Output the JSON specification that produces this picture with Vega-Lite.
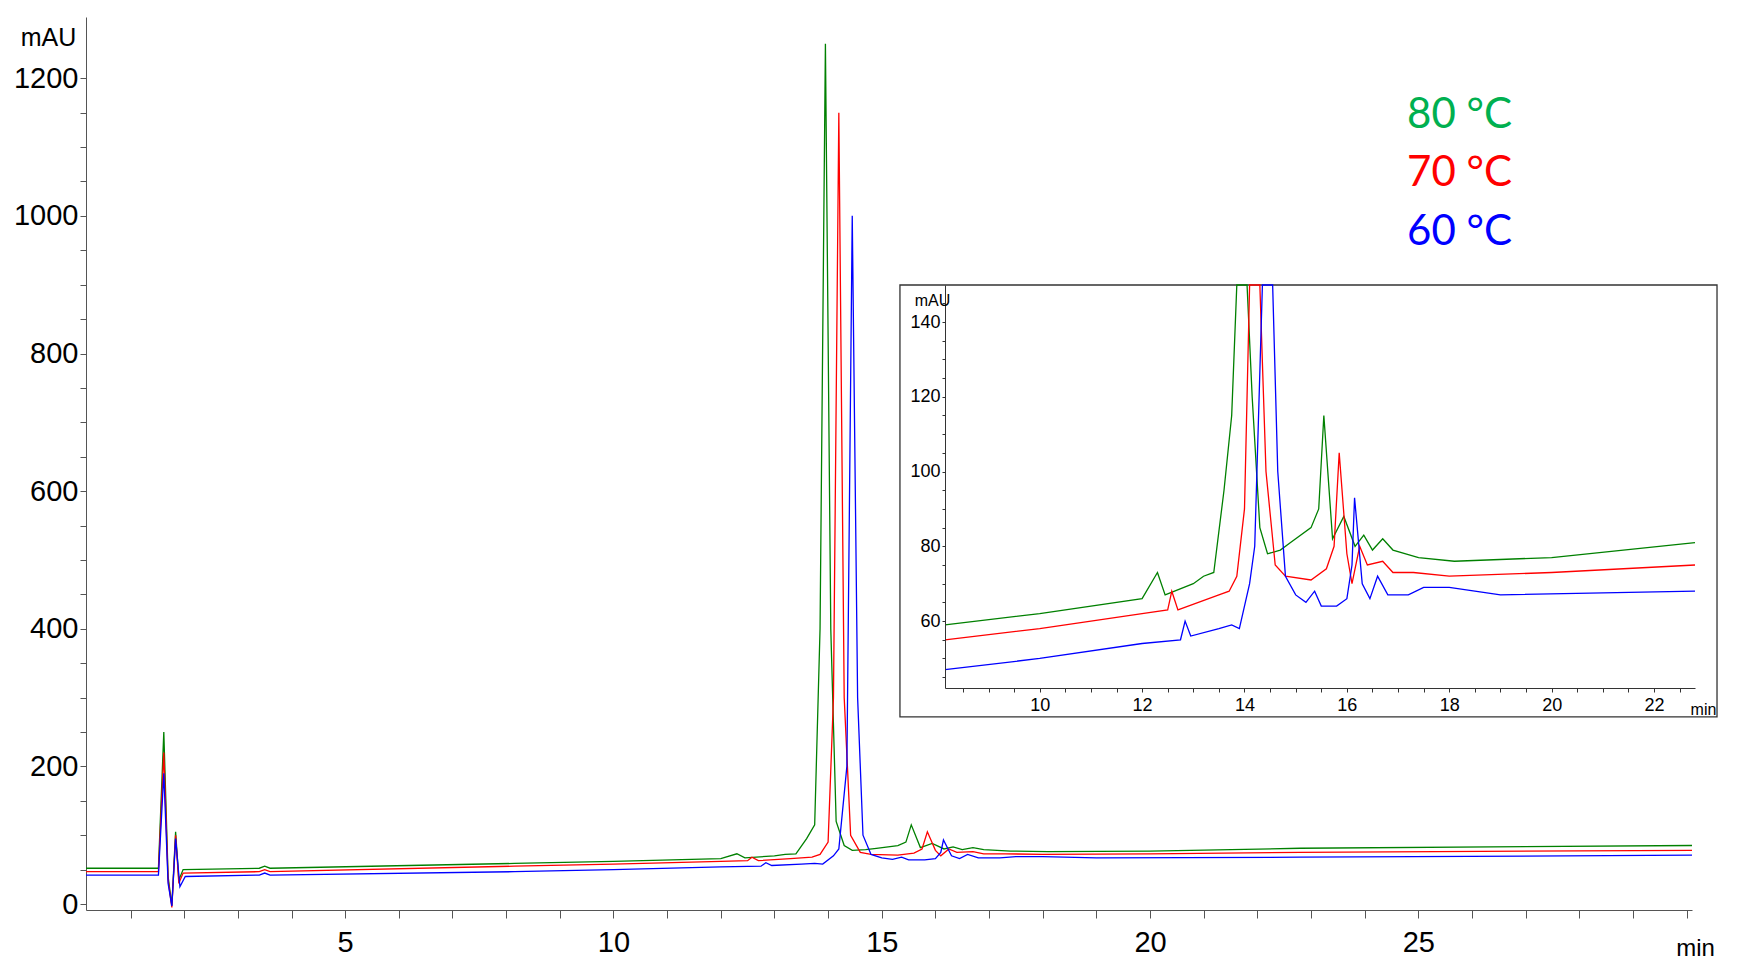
{
  "$schema": "https://vega.github.io/schema/vega-lite/v6.json",
  "width": 1606,
  "height": 893,
  "autosize": "none",
  "padding": {"left": 86, "top": 17, "right": 62, "bottom": 67},
  "background": "white",
  "datasets": {
    "traces": [
      {"s":"80","t":0.17,"v":52},{"s":"80","t":1.52,"v":52},{"s":"80","t":1.62,"v":250},{"s":"80","t":1.7,"v":40},{"s":"80","t":1.77,"v":-2},{"s":"80","t":1.84,"v":105},{"s":"80","t":1.9,"v":35},{"s":"80","t":1.98,"v":50},{"s":"80","t":3.4,"v":52},{"s":"80","t":3.5,"v":55},{"s":"80","t":3.6,"v":52},{"s":"80","t":8.15,"v":59},{"s":"80","t":10,"v":62},{"s":"80","t":12,"v":66},{"s":"80","t":12.3,"v":73},{"s":"80","t":12.45,"v":67},{"s":"80","t":13,"v":70},{"s":"80","t":13.2,"v":72},{"s":"80","t":13.4,"v":73},{"s":"80","t":13.6,"v":95},{"s":"80","t":13.75,"v":115},{"s":"80","t":13.85,"v":400},{"s":"80","t":13.95,"v":1250},{"s":"80","t":14.05,"v":400},{"s":"80","t":14.15,"v":120},{"s":"80","t":14.3,"v":85},{"s":"80","t":14.45,"v":78},{"s":"80","t":14.7,"v":79},{"s":"80","t":14.9,"v":81},{"s":"80","t":15.3,"v":85},{"s":"80","t":15.45,"v":90},{"s":"80","t":15.55,"v":115},{"s":"80","t":15.72,"v":82},{"s":"80","t":15.94,"v":88},{"s":"80","t":16.16,"v":80},{"s":"80","t":16.33,"v":83},{"s":"80","t":16.5,"v":79},{"s":"80","t":16.7,"v":82},{"s":"80","t":16.9,"v":79},{"s":"80","t":17.4,"v":77},{"s":"80","t":18.1,"v":76},{"s":"80","t":20,"v":77},{"s":"80","t":22.8,"v":81},{"s":"80","t":30.1,"v":85},
      {"s":"70","t":0.17,"v":47},{"s":"70","t":1.52,"v":47},{"s":"70","t":1.62,"v":220},{"s":"70","t":1.7,"v":35},{"s":"70","t":1.77,"v":-5},{"s":"70","t":1.84,"v":100},{"s":"70","t":1.9,"v":30},{"s":"70","t":1.98,"v":45},{"s":"70","t":3.4,"v":47},{"s":"70","t":3.5,"v":50},{"s":"70","t":3.6,"v":47},{"s":"70","t":8.15,"v":55},{"s":"70","t":10,"v":58},{"s":"70","t":12,"v":62},{"s":"70","t":12.5,"v":63},{"s":"70","t":12.58,"v":68},{"s":"70","t":12.7,"v":63},{"s":"70","t":13.3,"v":66},{"s":"70","t":13.5,"v":67},{"s":"70","t":13.7,"v":68},{"s":"70","t":13.85,"v":72},{"s":"70","t":14.0,"v":90},{"s":"70","t":14.1,"v":300},{"s":"70","t":14.2,"v":1150},{"s":"70","t":14.3,"v":300},{"s":"70","t":14.42,"v":100},{"s":"70","t":14.6,"v":75},{"s":"70","t":14.8,"v":72},{"s":"70","t":15.3,"v":71},{"s":"70","t":15.6,"v":74},{"s":"70","t":15.75,"v":80},{"s":"70","t":15.85,"v":105},{"s":"70","t":16.0,"v":78},{"s":"70","t":16.1,"v":70},{"s":"70","t":16.25,"v":80},{"s":"70","t":16.4,"v":75},{"s":"70","t":16.7,"v":76},{"s":"70","t":16.9,"v":73},{"s":"70","t":17.3,"v":73},{"s":"70","t":18,"v":72},{"s":"70","t":20,"v":73},{"s":"70","t":22.8,"v":75},{"s":"70","t":30.1,"v":78},
      {"s":"60","t":0.17,"v":42},{"s":"60","t":1.52,"v":42},{"s":"60","t":1.62,"v":190},{"s":"60","t":1.7,"v":30},{"s":"60","t":1.77,"v":-3},{"s":"60","t":1.84,"v":95},{"s":"60","t":1.92,"v":25},{"s":"60","t":2.02,"v":40},{"s":"60","t":3.4,"v":42},{"s":"60","t":3.5,"v":45},{"s":"60","t":3.6,"v":42},{"s":"60","t":8.15,"v":47},{"s":"60","t":10,"v":50},{"s":"60","t":12,"v":54},{"s":"60","t":12.75,"v":55},{"s":"60","t":12.84,"v":60},{"s":"60","t":12.95,"v":56},{"s":"60","t":13.5,"v":58},{"s":"60","t":13.75,"v":59},{"s":"60","t":13.9,"v":58},{"s":"60","t":14.1,"v":70},{"s":"60","t":14.2,"v":80},{"s":"60","t":14.35,"v":200},{"s":"60","t":14.45,"v":1000},{"s":"60","t":14.55,"v":300},{"s":"60","t":14.65,"v":100},{"s":"60","t":14.8,"v":72},{"s":"60","t":15.0,"v":67},{"s":"60","t":15.2,"v":65},{"s":"60","t":15.37,"v":68},{"s":"60","t":15.5,"v":64},{"s":"60","t":15.8,"v":64},{"s":"60","t":16.0,"v":66},{"s":"60","t":16.1,"v":75},{"s":"60","t":16.15,"v":93},{"s":"60","t":16.3,"v":70},{"s":"60","t":16.45,"v":66},{"s":"60","t":16.6,"v":72},{"s":"60","t":16.8,"v":67},{"s":"60","t":17.2,"v":67},{"s":"60","t":17.5,"v":69},{"s":"60","t":18,"v":69},{"s":"60","t":19,"v":67},{"s":"60","t":22.8,"v":68},{"s":"60","t":30.1,"v":71}
    ],
    "legend": [
      {"label":"80 °C","t":24.79,"v":1147,"c":"#00B050"},
      {"label":"70 °C","t":24.79,"v":1062,"c":"#FF0000"},
      {"label":"60 °C","t":24.79,"v":977,"c":"#0000FF"}
    ],
    "box": [{"x1":7.27,"x2":23.23,"y1":34.35,"y2":149.9}]
  },
  "layer": [
    {
      "data": {"name": "traces"},
      "mark": {"type": "line", "strokeWidth": 1.3},
      "encoding": {
        "x": {"field": "t", "type": "quantitative",
          "scale": {"domain": [0.17, 30.1], "nice": false, "zero": false},
          "axis": {"values": [1,2,3,4,5,6,7,8,9,10,11,12,13,14,15,16,17,18,19,20,21,22,23,24,25,26,27,28,29,30],
            "labelExpr": "datum.value % 5 == 0 && datum.value < 30 ? datum.label : ''",
            "grid": false, "domainColor": "#555", "tickColor": "#555", "tickSize": 8,
            "labelFont": "Liberation Sans", "labelFontSize": 29, "labelColor": "black", "labelPadding": 10,
            "title": "min", "titleFont": "Liberation Sans", "titleFontSize": 24, "titleFontWeight": "normal",
            "titleX": 1609, "titleY": 38, "titleAlign": "center", "titleBaseline": "middle"}},
        "y": {"field": "v", "type": "quantitative",
          "scale": {"domain": [-8.7, 1289], "nice": false, "zero": false},
          "axis": {"values": [0,50,100,150,200,250,300,350,400,450,500,550,600,650,700,750,800,850,900,950,1000,1050,1100,1150,1200],
            "labelExpr": "datum.value % 200 == 0 ? datum.label : ''",
            "format": "d", "grid": false, "domainColor": "#555", "tickColor": "#555", "tickSize": 6,
            "labelFont": "Liberation Sans", "labelFontSize": 29, "labelColor": "black", "labelPadding": 2,
            "title": "mAU", "titleFont": "Liberation Sans", "titleFontSize": 25, "titleFontWeight": "normal",
            "titleAngle": 0, "titleX": -38, "titleY": 20, "titleAlign": "center", "titleBaseline": "middle"}},
        "color": {"field": "s", "type": "nominal",
          "scale": {"domain": ["80","70","60"], "range": ["#008000","#FF0000","#0000FF"]}, "legend": null},
        "detail": {"field": "s"}
      }
    },
    {
      "data": {"name": "legend"},
      "mark": {"type": "text", "align": "left", "baseline": "middle", "font": "Lato", "fontSize": 42},
      "encoding": {
        "x": {"field": "t", "type": "quantitative", "scale": {"domain": [0.17, 30.1], "nice": false, "zero": false}, "axis": null},
        "y": {"field": "v", "type": "quantitative", "scale": {"domain": [-8.7, 1289], "nice": false, "zero": false}, "axis": null},
        "text": {"field": "label"},
        "color": {"field": "c", "type": "nominal", "scale": null}
      }
    },
    {
      "data": {"name": "box"},
      "mark": {"type": "rect", "fill": "white", "stroke": "#333", "strokeWidth": 1.3},
      "encoding": {
        "x": {"field": "x1", "type": "quantitative", "scale": {"domain": [8.15, 22.8], "range": [859, 1609], "nice": false, "zero": false}, "axis": null},
        "x2": {"field": "x2"},
        "y": {"field": "y1", "type": "quantitative", "scale": {"domain": [42.1, 149.9], "range": [671, 268], "nice": false, "zero": false}, "axis": null},
        "y2": {"field": "y2"}
      }
    },
    {
      "data": {"name": "traces"},
      "transform": [{"filter": "datum.t >= 8.15 && datum.t <= 22.8"}],
      "mark": {"type": "line", "strokeWidth": 1.3},
      "encoding": {
        "x": {"field": "t", "type": "quantitative",
          "scale": {"domain": [8.15, 22.8], "range": [859, 1609], "nice": false, "zero": false},
          "axis": {"orient": "bottom", "offset": -222, "zindex": 2,
            "values": [8.5,9,9.5,10,10.5,11,11.5,12,12.5,13,13.5,14,14.5,15,15.5,16,16.5,17,17.5,18,18.5,19,19.5,20,20.5,21,21.5,22,22.5],
            "labelExpr": "datum.value % 2 == 0 ? datum.value : ''",
            "grid": false, "domainColor": "#333", "tickColor": "#333", "tickSize": 4,
            "labelFont": "Liberation Sans", "labelFontSize": 18, "labelColor": "black", "labelPadding": 4,
            "title": "min", "titleFont": "Liberation Sans", "titleFontSize": 16, "titleFontWeight": "normal",
            "titleX": 1617, "titleY": 21, "titleAlign": "center", "titleBaseline": "middle"}},
        "y": {"field": "v", "type": "quantitative",
          "scale": {"domain": [42.1, 149.9], "range": [671, 268], "nice": false, "zero": false, "clamp": true},
          "axis": {"orient": "left", "offset": -859, "zindex": 2,
            "values": [45,50,55,60,65,70,75,80,85,90,95,100,105,110,115,120,125,130,135,140,145],
            "labelExpr": "datum.value % 20 == 0 ? datum.value : ''",
            "grid": false, "domainColor": "#333", "tickColor": "#333", "tickSize": 3,
            "labelFont": "Liberation Sans", "labelFontSize": 18, "labelColor": "black", "labelPadding": 2,
            "title": "mAU", "titleFont": "Liberation Sans", "titleFontSize": 16, "titleFontWeight": "normal",
            "titleAngle": 0, "titleX": -13, "titleY": 283, "titleAlign": "center", "titleBaseline": "middle"}},
        "color": {"field": "s", "type": "nominal",
          "scale": {"domain": ["80","70","60"], "range": ["#008000","#FF0000","#0000FF"]}, "legend": null},
        "detail": {"field": "s"}
      }
    }
  ],
  "resolve": {"scale": {"x": "independent", "y": "independent"}, "axis": {"x": "independent", "y": "independent"}},
  "config": {"view": {"stroke": null}}
}
